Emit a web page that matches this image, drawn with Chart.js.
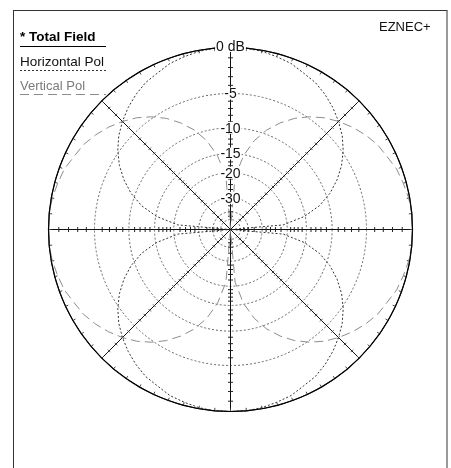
<!DOCTYPE html>
<html><head><meta charset="utf-8">
<script src="https://cdn.jsdelivr.net/npm/chart.js@4/dist/chart.umd.min.js"></script>
<style>
html,body{margin:0;padding:0;background:#fff;width:451px;height:468px;overflow:hidden;font-family:"Liberation Sans",Arial,sans-serif;}
#wrap{position:relative;width:451px;height:468px;}
canvas{position:absolute;left:0;top:0;}
.frame{position:absolute;left:13px;top:10px;width:432px;height:470px;border-left:1px solid #333;border-top:1px solid #333;border-right:2px solid #999;}
.t{position:absolute;font-size:13px;line-height:13px;white-space:nowrap;color:#111;}
.ln{position:absolute;left:20px;width:86px;height:1px;}
</style></head>
<body><div id="wrap">
<canvas id="c" width="451" height="468"></canvas>
<div class="frame"></div>
<div class="t" style="left:20px;top:29.5px;font-weight:bold;font-size:13.5px;color:#000">* Total Field</div>
<div class="ln" style="top:46px;background:#000"></div>
<div class="t" style="left:20px;top:54.5px;font-size:13.5px">Horizontal Pol</div>
<div class="ln" style="top:70px;background:repeating-linear-gradient(90deg,#333 0 2px,transparent 2px 4px)"></div>
<div class="t" style="left:20px;top:78.5px;color:#7a7a7a">Vertical Pol</div>
<div class="ln" style="top:94px;background:repeating-linear-gradient(90deg,#8c8c8c 0 9px,transparent 9px 14px)"></div>
<div class="t" style="left:379px;top:20px">EZNEC+</div>
</div>
<script>
const ANGLES = [0,5,10,15,20,25,30,35,40,45,50,55,60,65,70,75,80,85,90,95,100,105,110,115,120,125,130,135,140,145,150,155,160,165,170,175,
  180,185,190,195,200,205,210,215,220,225,230,235,240,245,250,255,260,265,270,275,280,285,290,295,300,305,310,315,320,325,330,335,340,345,350,355];
const TOTAL_FIELD = [0,0,0,0,0,0,0,0,0,0,0,0,0,0,0,0,0,0,0,0,0,0,0,0,0,0,0,0,0,0,0,0,0,0,0,0,
  0,0,0,0,0,0,0,0,0,0,0,0,0,0,0,0,0,0,0,0,0,0,0,0,0,0,0,0,0,0,0,0,0,0,0,0];
const HORIZONTAL_POL = [-99,-21.2,-15.2,-11.7,-9.3,-7.5,-6.0,-4.8,-3.8,-3.0,-2.3,-1.7,-1.2,-0.9,-0.5,-0.3,-0.1,0,
  0,0,-0.1,-0.3,-0.5,-0.9,-1.2,-1.7,-2.3,-3.0,-3.8,-4.8,-6.0,-7.5,-9.3,-11.7,-15.2,-21.2,
  -99,-21.2,-15.2,-11.7,-9.3,-7.5,-6.0,-4.8,-3.8,-3.0,-2.3,-1.7,-1.2,-0.9,-0.5,-0.3,-0.1,0,
  0,0,-0.1,-0.3,-0.5,-0.9,-1.2,-1.7,-2.3,-3.0,-3.8,-4.8,-6.0,-7.5,-9.3,-11.7,-15.2,-21.2];
const VERTICAL_POL = [0,0,-0.1,-0.3,-0.5,-0.9,-1.2,-1.7,-2.3,-3.0,-3.8,-4.8,-6.0,-7.5,-9.3,-11.7,-15.2,-21.2,
  -99,-21.2,-15.2,-11.7,-9.3,-7.5,-6.0,-4.8,-3.8,-3.0,-2.3,-1.7,-1.2,-0.9,-0.5,-0.3,-0.1,0,
  0,0,-0.1,-0.3,-0.5,-0.9,-1.2,-1.7,-2.3,-3.0,-3.8,-4.8,-6.0,-7.5,-9.3,-11.7,-15.2,-21.2,
  -99,-21.2,-15.2,-11.7,-9.3,-7.5,-6.0,-4.8,-3.8,-3.0,-2.3,-1.7,-1.2,-0.9,-0.5,-0.3,-0.1,0];
const RING_DB = [0,-5,-10,-15,-20,-30,-40,-50];
const RING_LABELS = ['0 dB','-5','-10','-15','-20','-30','',''];
const TICK_DB = [-1,-2,-3,-4,-6,-7,-8,-9,-11,-12,-13,-14,-16,-17,-18,-19,-22,-24,-26,-28,-35,-40,-45];

function rad(db){ return Math.pow(0.89, -db/2); }
function pts(vals){
  const p = ANGLES.map((a,i)=>{ const r = rad(vals[i]); const t = a*Math.PI/180; return {x:r*Math.cos(t), y:r*Math.sin(t)}; });
  p.push(p[0]);
  return p;
}

const grid = {
  id:'grid',
  beforeDatasetsDraw(chart){
    const ctx = chart.ctx, xs = chart.scales.x, ys = chart.scales.y;
    const cx = xs.getPixelForValue(0), cy = ys.getPixelForValue(0);
    const R = xs.getPixelForValue(1) - cx;
    ctx.save();
    ctx.lineWidth = 1;
    RING_DB.forEach(db=>{
      ctx.beginPath();
      ctx.arc(cx, cy, R*rad(db), 0, 2*Math.PI);
      if (db === 0) { ctx.setLineDash([]); ctx.strokeStyle = '#222'; }
      else { ctx.setLineDash([2,2]); ctx.strokeStyle = '#666'; }
      ctx.stroke();
    });
    ctx.setLineDash([]);
    for (let k=0;k<8;k++){
      const t = k*Math.PI/4, c = Math.cos(t), s = Math.sin(t);
      const axis = (k % 2 === 0);
      ctx.strokeStyle = '#111';
      ctx.beginPath();
      ctx.moveTo(cx, cy); ctx.lineTo(cx + R*c, cy - R*s);
      ctx.stroke();
      ctx.strokeStyle = axis ? '#222' : '#555';
      ctx.beginPath();
      const L = axis ? 2.5 : 1.8;
      TICK_DB.forEach(d=>{
        const r = R*rad(d), px = cx + r*c, py = cy - r*s;
        const nx = -s*L, ny = -c*L;
        ctx.moveTo(px - nx, py - ny); ctx.lineTo(px + nx, py + ny);
      });
      ctx.stroke();
    }
    ctx.strokeStyle = '#444';
    ctx.beginPath();
    for (let a=0; a<360; a+=5){
      const t = a*Math.PI/180, c = Math.cos(t), s = Math.sin(t);
      ctx.moveTo(cx + R*c, cy - R*s); ctx.lineTo(cx + (R-3)*c, cy - (R-3)*s);
    }
    ctx.stroke();
    ctx.restore();
  }
};

const ringLabels = {
  id:'ringLabels',
  afterDatasetsDraw(chart){
    const ctx = chart.ctx, xs = chart.scales.x, ys = chart.scales.y;
    const cx = xs.getPixelForValue(0), cy = ys.getPixelForValue(0);
    const R = xs.getPixelForValue(1) - cx;
    ctx.save();
    ctx.font = '14px "Liberation Sans", Arial, sans-serif';
    ctx.textAlign = 'center';
    ctx.textBaseline = 'middle';
    RING_DB.forEach((db,i)=>{
      const txt = RING_LABELS[i]; if (!txt) return;
      const y = cy - R*rad(db) - (db===0 ? 1.5 : 0);
      const w = ctx.measureText(txt).width;
      ctx.fillStyle = '#fff';
      ctx.fillRect(cx - w/2 - 1, y - 6, w + 2, 12);
      ctx.fillStyle = '#111';
      ctx.fillText(txt, cx, y + 1);
    });
    ctx.restore();
  }
};

new Chart(document.getElementById('c'), {
  type:'scatter',
  data:{ datasets:[
    { label:'Total Field', data:pts(TOTAL_FIELD), showLine:true, borderColor:'#000', borderWidth:1.2, pointRadius:0, fill:false, clip:false },
    { label:'Horizontal Pol', data:pts(HORIZONTAL_POL), showLine:true, borderColor:'#333', borderWidth:1, borderDash:[2,2], pointRadius:0, fill:false, clip:false },
    { label:'Vertical Pol', data:pts(VERTICAL_POL), showLine:true, borderColor:'#8c8c8c', borderWidth:1, borderDash:[9,5], pointRadius:0, fill:false, clip:false }
  ]},
  options:{
    responsive:false, maintainAspectRatio:false, animation:false, events:[],
    layout:{ padding:{ left:48.5, right:38.5, top:47.5, bottom:56.5 } },
    plugins:{ legend:{display:false}, tooltip:{enabled:false} },
    scales:{ x:{ type:'linear', min:-1, max:1, display:false }, y:{ type:'linear', min:-1, max:1, display:false } }
  },
  plugins:[grid, ringLabels]
});
</script>
</body></html>
